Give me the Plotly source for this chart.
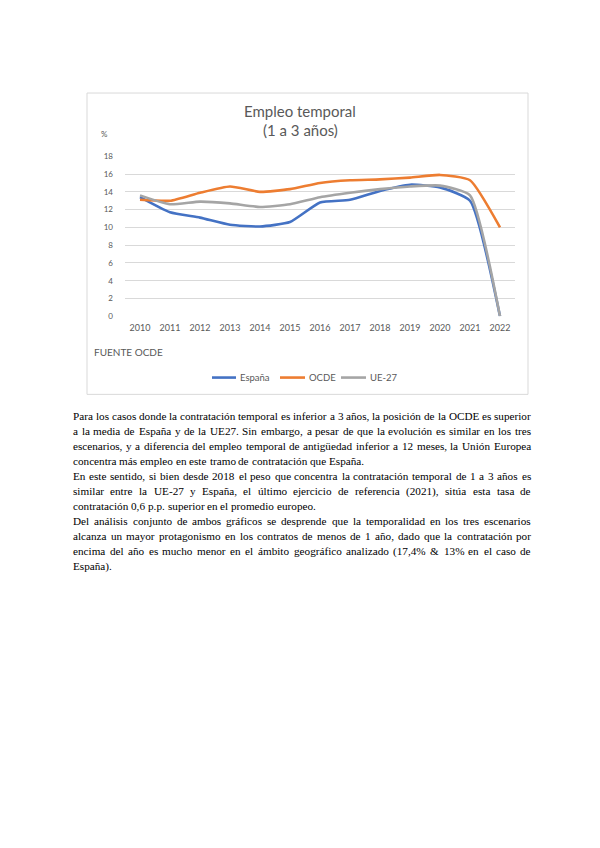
import plotly.graph_objects as go

# ---------------- data ----------------
years = [str(y) for y in range(2010, 2023)]
espana = [13.4, 11.7, 11.1, 10.3, 10.1, 10.6, 12.8, 13.1, 14.1, 14.8, 14.5, 13.0, 0.0]
ocde = [13.1, 13.0, 13.9, 14.6, 14.0, 14.3, 15.0, 15.3, 15.4, 15.6, 15.9, 15.3, 10.0]
ue27 = [13.6, 12.6, 12.9, 12.7, 12.3, 12.6, 13.4, 13.9, 14.3, 14.6, 14.7, 13.6, 0.0]
series_names = ["España", "OCDE", "UE-27"]
y_ticks = [0, 2, 4, 6, 8, 10, 12, 14, 16, 18]
title_lines = ["Empleo temporal", "(1 a 3 años)"]
source_text = "FUENTE OCDE"
unit_text = "%"

# body text: (line, justified?)
body_lines = [
    ("Para los casos donde la contratación temporal es inferior a 3 años, la posición de la OCDE es superior", True),
    ("a la media de España y de la UE27. Sin embargo, a pesar de que la evolución es similar en los tres", True),
    ("escenarios, y a diferencia del empleo temporal de antigüedad inferior a 12 meses, la Unión Europea", True),
    ("concentra más empleo en este tramo de contratación que España.", False),
    ("En este sentido, si bien desde 2018 el peso que concentra la contratación temporal de 1 a 3 años es", True),
    ("similar entre la UE-27 y España, el último ejercicio de referencia (2021), sitúa esta tasa de", True),
    ("contratación 0,6 p.p. superior en el promedio europeo.", False),
    ("Del análisis conjunto de ambos gráficos se desprende que la temporalidad en los tres escenarios", True),
    ("alcanza un mayor protagonismo en los contratos de menos de 1 año, dado que la contratación por", True),
    ("encima del año es mucho menor en el ámbito geográfico analizado (17,4% & 13% en el caso de", True),
    ("España).", False),
]

# ---------------- layout helpers ----------------
# page body has an 8px margin: the figure fills the rest of the 600x848 window
OFF = 8
W, H = 600 - 2 * OFF, 848 - 2 * OFF


def px(x):
    return (x - OFF) / W


def py(y):
    return 1 - (y - OFF) / H


# Times metrics (1/1000 em) for justification
TIMES = {' ': 250, '!': 333, '"': 408, '#': 500, '$': 500, '%': 833, '&': 778, "'": 333,
         '(': 333, ')': 333, '*': 500, '+': 564, ',': 250, '-': 333, '.': 250, '/': 278,
         ':': 278, ';': 278, '?': 444,
         'A': 722, 'B': 667, 'C': 667, 'D': 722, 'E': 611, 'F': 556, 'G': 722, 'H': 722,
         'I': 333, 'J': 389, 'K': 722, 'L': 611, 'M': 889, 'N': 722, 'O': 722, 'P': 556,
         'Q': 722, 'R': 667, 'S': 556, 'T': 611, 'U': 722, 'V': 722, 'W': 944, 'X': 722,
         'Y': 722, 'Z': 611,
         'a': 444, 'b': 500, 'c': 444, 'd': 500, 'e': 444, 'f': 333, 'g': 500, 'h': 500,
         'i': 278, 'j': 278, 'k': 500, 'l': 278, 'm': 778, 'n': 500, 'o': 500, 'p': 500,
         'q': 500, 'r': 333, 's': 389, 't': 278, 'u': 500, 'v': 500, 'w': 722, 'x': 500,
         'y': 500, 'z': 444,
         'á': 444, 'é': 444, 'í': 278, 'ó': 500, 'ú': 500, 'ñ': 500, 'ü': 500}
for d in '0123456789':
    TIMES[d] = 500


def tw(s, size):
    return sum(TIMES.get(c, 500) for c in s) * size / 1000


colors = ["#4472C4", "#ED7D31", "#A5A5A5"]
grey_txt = "#595959"
chart_font = "Lato"

fig = go.Figure()
for name, vals, col in zip(series_names, [espana, ocde, ue27], colors):
    fig.add_trace(go.Scatter(
        x=years, y=vals, name=name, mode="lines",
        line=dict(color=col, width=2.6, shape="spline", smoothing=0.5),
        showlegend=False,
    ))

# chart box
shapes = [dict(type="rect", xref="paper", yref="paper",
               x0=px(87), x1=px(528), y0=py(394), y1=py(89),
               line=dict(color="#d9d9d9", width=1), fillcolor="white", layer="below")]

annotations = []
annotations.append(dict(text=title_lines[0], x=px(300), y=py(107), xref="paper", yref="paper",
                        showarrow=False, xanchor="center", yanchor="middle",
                        font=dict(family=chart_font, size=15, color=grey_txt)))
annotations.append(dict(text=title_lines[1], x=px(300), y=py(126), xref="paper", yref="paper",
                        showarrow=False, xanchor="center", yanchor="middle",
                        font=dict(family=chart_font, size=15, color=grey_txt)))
annotations.append(dict(text=unit_text, x=px(104), y=py(130), xref="paper", yref="paper",
                        showarrow=False, xanchor="center", yanchor="middle",
                        font=dict(family=chart_font, size=8, color=grey_txt)))
annotations.append(dict(text=source_text, x=px(92), y=py(351), xref="paper", yref="paper",
                        showarrow=False, xanchor="left", yanchor="middle",
                        font=dict(family=chart_font, size=10, color=grey_txt)))

# manual legend (compact, like the original)
legend_items = [(212, 236, 238), (280, 305, 307), (341, 366, 368)]
for name, col, (l0, l1, tx) in zip(series_names, colors, legend_items):
    shapes.append(dict(type="line", xref="paper", yref="paper",
                       x0=px(l0), x1=px(l1), y0=py(377), y1=py(377),
                       line=dict(color=col, width=2.6)))
    annotations.append(dict(text=name, x=px(tx), y=py(377), xref="paper", yref="paper",
                            showarrow=False, xanchor="left", yanchor="middle",
                            font=dict(family=chart_font, size=9.5, color=grey_txt)))

# body text, justified word by word
FS = 11.2
XL, XR = 72, 530
y0_txt, dy_txt = 416, 15.2
for i, (line, just) in enumerate(body_lines):
    words = line.split(" ")
    widths = [tw(w, FS) for w in words]
    if just and len(words) > 1:
        gap = (XR - XL - sum(widths)) / (len(words) - 1)
    else:
        gap = tw(" ", FS)
    x = XL
    y = y0_txt + i * dy_txt
    for w, wd in zip(words, widths):
        annotations.append(dict(text=w, x=px(x), y=py(y), xref="paper", yref="paper",
                                showarrow=False, xanchor="left", yanchor="middle",
                                borderpad=0,
                                font=dict(family="Liberation Serif", size=FS, color="black")))
        x += wd + gap

fig.update_layout(
    width=W, height=H,
    margin=dict(l=0, r=0, t=0, b=0),
    paper_bgcolor="white", plot_bgcolor="rgba(0,0,0,0)",
    shapes=shapes, annotations=annotations,
    showlegend=False,
    xaxis=dict(domain=[px(125), px(515)], type="category", range=[-0.5, 12.5],
               showgrid=False, showline=False, zeroline=False, ticks="",
               ticklabelstandoff=5,
               tickfont=dict(family=chart_font, size=9, color=grey_txt)),
    yaxis=dict(domain=[py(315), py(153)], range=[0, 18], tickvals=y_ticks,
               showgrid=True, gridcolor="#d9d9d9", gridwidth=1, zeroline=False,
               showline=False, ticks="", ticklabelstandoff=11,
               tickfont=dict(family=chart_font, size=8, color=grey_txt)),
)

fig.write_html("out.html")
